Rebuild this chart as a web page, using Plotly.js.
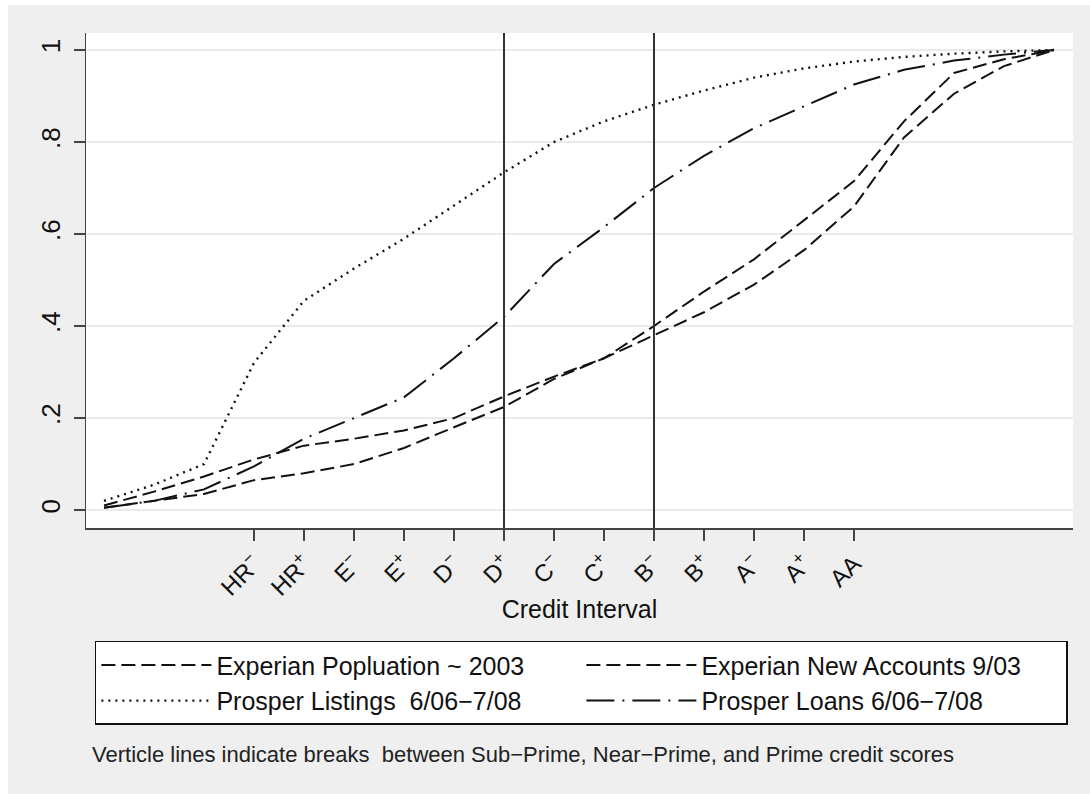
<!DOCTYPE html>
<html>
<head>
<meta charset="utf-8">
<script src="https://cdn.plot.ly/plotly-3.0.1.min.js"></script>
<style>
  body { margin: 0; background: #ffffff; }
  #myDiv { width: 1090px; height: 794px; }
</style>
</head>
<body>
<div id="myDiv"></div>
<script>
// posiciones en el eje (una por punto)
const posiciones = [0, 1, 2, 3, 4, 5, 6, 7, 8, 9, 10, 11, 12, 13, 14, 15, 16, 17, 18, 19];

// etiquetas del eje x
const tickPos = [3, 4, 5, 6, 7, 8, 9, 10, 11, 12, 13, 14, 15];
const tickTexto = ["HR<sup>−</sup>", "HR<sup>+</sup>", "E<sup>−</sup>", "E<sup>+</sup>",
  "D<sup>−</sup>", "D<sup>+</sup>", "C<sup>−</sup>", "C<sup>+</sup>",
  "B<sup>−</sup>", "B<sup>+</sup>", "A<sup>−</sup>", "A<sup>+</sup>", "AA"];

// cortes Sub-Prime / Near-Prime / Prime
const cortes = [8, 11];

// distribuciones acumuladas
const experianPob = [0.010, 0.040, 0.073, 0.110, 0.140, 0.155, 0.173, 0.200, 0.247, 0.290,
  0.330, 0.380, 0.430, 0.490, 0.565, 0.660, 0.810, 0.905, 0.965, 1.000];
const experianNuevas = [0.005, 0.020, 0.035, 0.065, 0.080, 0.100, 0.135, 0.180, 0.224, 0.285,
  0.330, 0.400, 0.475, 0.545, 0.630, 0.715, 0.845, 0.950, 0.980, 1.000];
const prosperListings = [0.020, 0.055, 0.100, 0.320, 0.455, 0.525, 0.590, 0.662, 0.734, 0.800,
  0.845, 0.881, 0.912, 0.940, 0.960, 0.975, 0.985, 0.992, 0.997, 1.000];
const prosperLoans = [0.005, 0.020, 0.045, 0.095, 0.155, 0.200, 0.245, 0.330, 0.420, 0.535,
  0.615, 0.700, 0.770, 0.830, 0.878, 0.925, 0.957, 0.977, 0.990, 1.000];

const nombres = ["Experian Popluation ~ 2003", "Experian New Accounts 9/03",
  "Prosper Listings  6/06−7/08", "Prosper Loans 6/06−7/08"];

const linea = (dash, w) => ({ color: "#111", width: w || 2, dash: dash });

const dataGrafica = [
  { x: posiciones, y: experianPob, type: "scatter", mode: "lines", name: nombres[0], line: linea("14px,6px") },
  { x: posiciones, y: experianNuevas, type: "scatter", mode: "lines", name: nombres[1], line: linea("14px,6px") },
  { x: posiciones, y: prosperListings, type: "scatter", mode: "lines", name: nombres[2], line: linea("2px,5px", 2.4) },
  { x: posiciones, y: prosperLoans, type: "scatter", mode: "lines", name: nombres[3], line: linea("28px,8px,2px,8px") }
];

// lineas verticales en los cortes
const shapes = cortes.map(c => ({
  type: "line", xref: "x", yref: "paper", x0: c, x1: c, y0: 0, y1: 1,
  line: { color: "#333", width: 2 }
}));

// franjas blancas del borde (izquierda y arriba)
shapes.push(
  { type: "rect", xref: "paper", yref: "paper", x0: -0.09, x1: -0.079, y0: -0.6, y1: 1.1,
    fillcolor: "#ffffff", line: { width: 0 }, layer: "above" },
  { type: "rect", xref: "paper", yref: "paper", x0: -0.09, x1: 1.1, y0: 1.0566, y1: 1.1,
    fillcolor: "#ffffff", line: { width: 0 }, layer: "above" }
);

const layout = {
  width: 1090,
  height: 794,
  margin: { l: 86, r: 17, t: 33, b: 266 },
  paper_bgcolor: "#efefef",
  plot_bgcolor: "#ffffff",
  font: { family: "Liberation Sans, Arial, sans-serif", color: "#111" },
  xaxis: {
    range: [-0.36, 19.38],
    tickvals: tickPos,
    ticktext: tickTexto,
    tickangle: -45,
    tickfont: { size: 24, color: "#111" },
    ticks: "outside", ticklen: 11, tickwidth: 1.5, tickcolor: "#444",
    showline: true, linecolor: "#444", linewidth: 1.5,
    showgrid: false, zeroline: false,
    title: { text: "Credit Interval", font: { size: 25 }, standoff: 0 }
  },
  yaxis: {
    range: [-0.039, 1.037],
    tickvals: [0, 0.2, 0.4, 0.6, 0.8, 1],
    ticktext: ["0", ".2", ".4", ".6", ".8", "1"],
    tickangle: -90,
    tickfont: { size: 26 },
    ticks: "outside", ticklen: 11, tickwidth: 1.5, tickcolor: "#444",
    ticklabelstandoff: 3,
    showline: true, linecolor: "#444", linewidth: 1.5,
    showgrid: true, gridcolor: "#eaeaea", gridwidth: 2,
    zeroline: false
  },
  showlegend: true,
  legend: {
    orientation: "h",
    x: 0.009, xanchor: "left",
    y: -0.228, yanchor: "top",
    bgcolor: "#ffffff",
    bordercolor: "#111", borderwidth: 1.5,
    font: { size: 25 },
    itemwidth: 110,
    entrywidth: 360,
    traceorder: "normal"
  },
  shapes: shapes,
  annotations: [
    {
      xref: "paper", yref: "paper", x: 0.004, y: -0.4566,
      xanchor: "left", yanchor: "middle", showarrow: false,
      text: "Verticle lines indicate breaks  between Sub−Prime, Near−Prime, and Prime credit scores",
      font: { size: 22, color: "#222" }
    }
  ]
};

Plotly.newPlot("myDiv", dataGrafica, layout, { displayModeBar: false, staticPlot: true });
</script>
</body>
</html>
